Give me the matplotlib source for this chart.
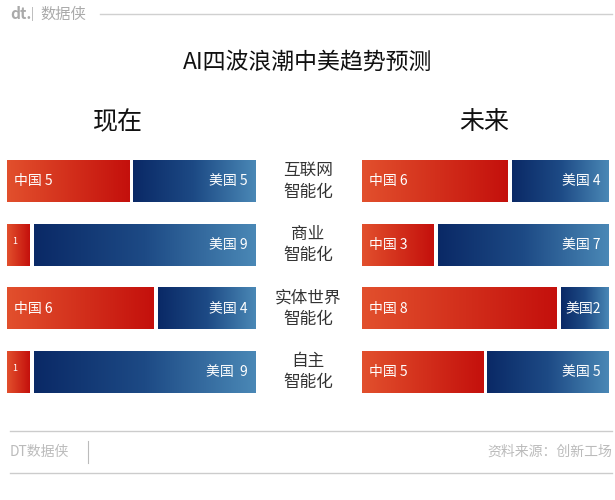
import matplotlib
matplotlib.use("Agg")
import matplotlib.pyplot as plt
import numpy as np
from matplotlib.colors import LinearSegmentedColormap

plt.rcParams["font.family"] = ["Noto Sans CJK SC", "DejaVu Sans"]

categories = ["互联网\n智能化", "商业\n智能化", "实体世界\n智能化", "自主\n智能化"]
now_cn = [5, 1, 6, 1]
now_us = [5, 9, 4, 9]
future_cn = [6, 3, 8, 5]
future_us = [4, 7, 2, 5]
now_cn_labels = ["中国 5", "1", "中国 6", "1"]
now_us_labels = ["美国 5", "美国 9", "美国 4", "美国  9"]
future_cn_labels = ["中国 6", "中国 3", "中国 8", "中国 5"]
future_us_labels = ["美国 4", "美国 7", "美国2", "美国 5"]

RED = LinearSegmentedColormap.from_list("red", ["#e2502d", "#d3301c", "#c4100c"])
BLUE = LinearSegmentedColormap.from_list("blue", ["#0a2966", "#1d4a85", "#4a88b6"])
GRAD = np.linspace(0, 1, 256).reshape(1, -1)
GAP = 0.08
H = 0.65

fig = plt.figure(figsize=(6.15, 5.0), dpi=100)
fig.patch.set_facecolor("white")


def panel(rect, cn, us, cn_labels, us_labels):
    ax = fig.add_axes(rect)
    for i, (c, u) in enumerate(zip(cn, us)):
        y0, y1 = i - H / 2, i + H / 2
        ax.imshow(GRAD, cmap=RED, extent=[0, c - GAP, y1, y0], aspect="auto")
        ax.imshow(GRAD, cmap=BLUE, extent=[c + GAP, c + u, y1, y0], aspect="auto")
        lab = cn_labels[i]
        if len(lab) > 2:
            ax.text(0.3, i, lab, color="white", fontsize=10, va="center", ha="left")
        else:
            ax.text(0.2, i - 0.05, lab, color="white", fontsize=6.5, va="center", ha="left")
        ax.text(c + u - 0.3, i, us_labels[i], color="white", fontsize=10,
                va="center", ha="right")
    ax.set_xlim(0, 10)
    ax.set_ylim(3.5, -0.5)
    ax.axis("off")
    return ax


panel([7 / 615, 0.1925, 248 / 615, 0.508], now_cn, now_us, now_cn_labels, now_us_labels)
panel([362 / 615, 0.1925, 246 / 615, 0.508], future_cn, future_us,
      future_cn_labels, future_us_labels)

# category labels in the middle
for i, cat in enumerate(categories):
    yc = 1 - (181.5 + 63.5 * i) / 500
    fig.text(308 / 615, yc, cat, ha="center", va="center", fontsize=12,
             color="#333333", linespacing=1.35)

fig.text(118 / 615, 1 - 122 / 500, "现在", ha="center", va="center", fontsize=18, color="#111111")
fig.text(484 / 615, 1 - 122 / 500, "未来", ha="center", va="center", fontsize=18, color="#111111")
fig.text(308 / 615, 1 - 62 / 500, "AI四波浪潮中美趋势预测", ha="center", va="center",
         fontsize=16.5, color="#111111", weight="medium")

# header
fig.text(10 / 615, 1 - 14 / 500, "dt.", ha="left", va="center", fontsize=11,
         color="#aaaaaa", weight="bold")
fig.text(31 / 615, 1 - 14 / 500, "|", ha="left", va="center", fontsize=9, color="#aaaaaa")
fig.text(40 / 615, 1 - 14 / 500, "数据侠", ha="left", va="center", fontsize=11, color="#aaaaaa")
fig.add_artist(plt.Line2D([100 / 615, 612 / 615], [1 - 14 / 500] * 2, color="#d0d0d0", lw=1))

# footer
for yy in (431, 473):
    fig.add_artist(plt.Line2D([10 / 615, 612 / 615], [1 - yy / 500] * 2, color="#cccccc", lw=1))
fig.text(10 / 615, 1 - 452 / 500, "DT数据侠", ha="left", va="center", fontsize=10, color="#bbbbbb")
fig.add_artist(plt.Line2D([88 / 615] * 2, [1 - 441 / 500, 1 - 463 / 500], color="#bbbbbb", lw=0.8))
fig.text(612 / 615, 1 - 452 / 500, "资料来源：创新工场", ha="right", va="center",
         fontsize=10, color="#bbbbbb")

fig.savefig("out.png", dpi=100, facecolor="white")
